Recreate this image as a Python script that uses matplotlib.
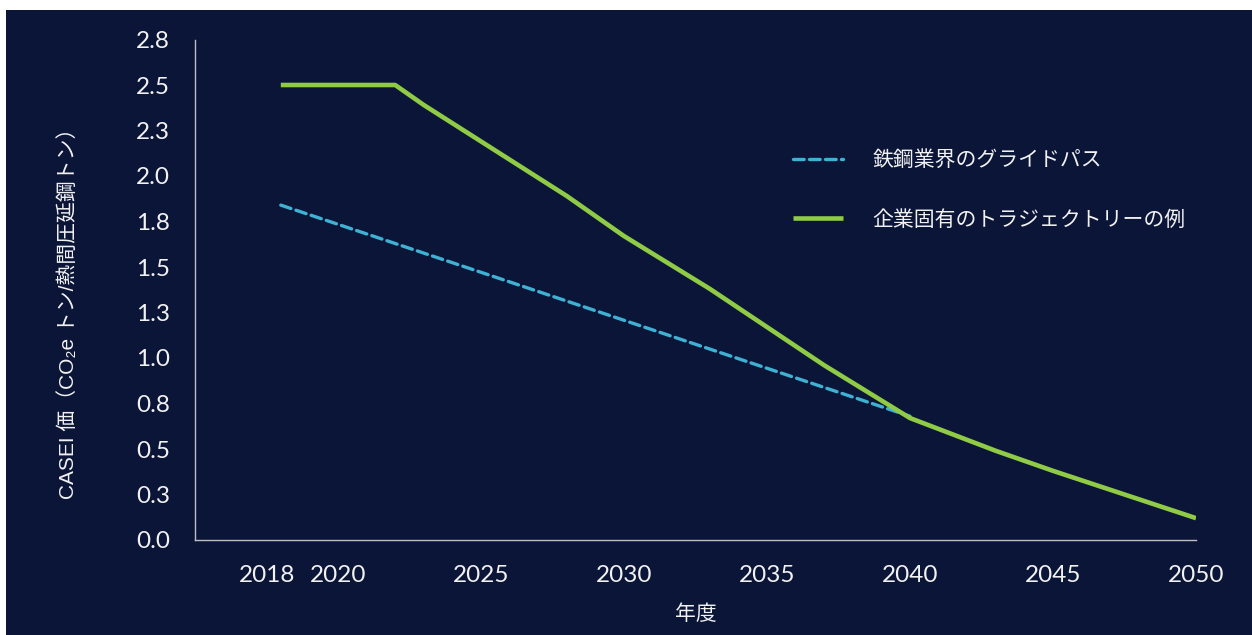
import matplotlib
matplotlib.use("Agg")
import matplotlib.pyplot as plt
from matplotlib.patches import Rectangle
from matplotlib.transforms import ScaledTranslation

plt.rcParams["font.family"] = ["Noto Sans CJK JP", "DejaVu Sans"]

# data
years_ind = [2018, 2040]
vals_ind = [1.84, 0.68]

years_co = [2018, 2022, 2023, 2025, 2028, 2030, 2033, 2035, 2037, 2040, 2043, 2045, 2050]
vals_co = [2.50, 2.50, 2.39, 2.19, 1.89, 1.67, 1.38, 1.17, 0.96, 0.67, 0.49, 0.38, 0.12]

x_ticks = [2018, 2020, 2025, 2030, 2035, 2040, 2045, 2050]
y_ticks = [0.0, 0.25, 0.5, 0.75, 1.0, 1.25, 1.5, 1.75, 2.0, 2.25, 2.5, 2.75]
y_labels = ["0.0", "0.3", "0.5", "0.8", "1.0", "1.3", "1.5", "1.8", "2.0", "2.3", "2.5", "2.8"]

label_ind = "鉄鋼業界のグライドパス"
label_co = "企業固有のトラジェクトリーの例"

bg = "#0b1538"
green = "#8fcb45"
blue = "#3fb1d3"
txt = "#f2f2f2"
tick_font = ["Lato", "DejaVu Sans"]

fig = plt.figure(figsize=(12.52, 6.35), dpi=100, facecolor="white")
fig.patches.append(Rectangle((6 / 1252, 0), 1 - 6 / 1252, 625 / 635,
                             transform=fig.transFigure, facecolor=bg,
                             edgecolor="none", zorder=-10))

ax = fig.add_axes([195 / 1252, 1 - 540 / 635, (1196 - 195) / 1252, (540 - 39.5) / 635])
ax.set_facecolor("none")

ax.plot(years_ind, vals_ind, color=blue, lw=2.4, dashes=(3.2, 1.6),
        label=label_ind, solid_capstyle="round", dash_capstyle="round")
ax.plot(years_co, vals_co, color=green, lw=3.3, label=label_co,
        solid_capstyle="butt")

ax.set_xlim(2015, 2050)
ax.set_ylim(0, 2.75)
ax.set_xticks(x_ticks)
ax.set_yticks(y_ticks)
ax.set_yticklabels(y_labels)

for s in ["top", "right"]:
    ax.spines[s].set_visible(False)
for s in ["left", "bottom"]:
    ax.spines[s].set_color("#bfbfbf")
    ax.spines[s].set_linewidth(1.0)

ax.tick_params(axis="both", length=0, colors=txt, labelsize=17.5)
ax.tick_params(axis="x", pad=18)
ax.tick_params(axis="y", pad=18)
for lab in ax.get_xticklabels() + ax.get_yticklabels():
    lab.set_family(tick_font)

# nudge the 2018 label left so it doesn't collide with 2020
first = ax.get_xticklabels()[0]
first.set_transform(first.get_transform() + ScaledTranslation(-14 / 100, 0, fig.dpi_scale_trans))

ax.set_xlabel("年度", color=txt, fontsize=15, labelpad=12)
fig.text(68 / 1252, 1 - 308 / 635, "CASEI 価（CO₂e トン/熱間圧延鋼トン）",
         rotation=90, ha="center", va="center", color=txt, fontsize=15,
         family=["Liberation Sans", "Noto Sans CJK JP", "DejaVu Sans"])

leg = ax.legend(loc="upper left", bbox_to_anchor=(793 / 1252, 1 - 149 / 635),
                bbox_transform=fig.transFigure, frameon=False, fontsize=15,
                handlelength=2.4, handletextpad=1.4, labelspacing=1.8,
                borderpad=0, borderaxespad=0)
for t in leg.get_texts():
    t.set_color(txt)

fig.savefig("out.png", dpi=100, facecolor=fig.get_facecolor())
